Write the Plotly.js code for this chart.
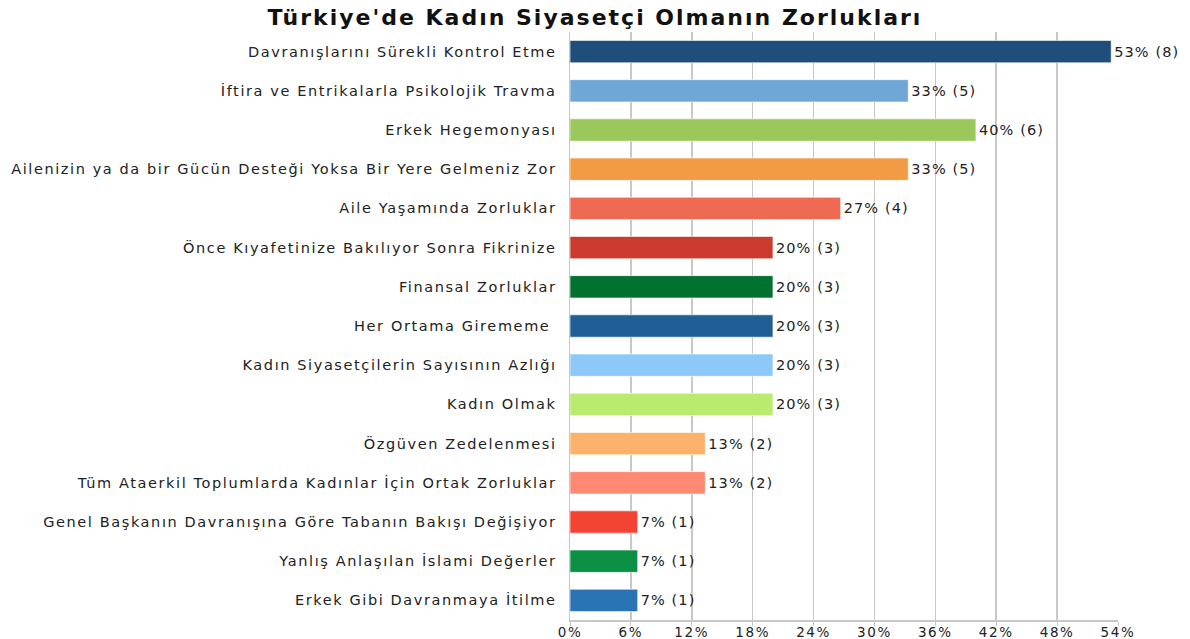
<!DOCTYPE html>
<html>
<head>
<meta charset="utf-8">
<script src="https://cdn.plot.ly/plotly-3.0.1.min.js"></script>
<style>
html,body{margin:0;padding:0;background:#fff;}
#chart{width:1190px;height:639px;}
#chart .ytick text {letter-spacing: 1.6px;}
#chart .xtick text {letter-spacing: 1.6px;}
text.bartext {letter-spacing: 1.1px;}
#chart .gtitle {letter-spacing: 2.0px;}
</style>
</head>
<body>
<div id="chart"></div>
<script>
const categories = [
  "Davranışlarını Sürekli Kontrol Etme",
  "İftira ve Entrikalarla Psikolojik Travma",
  "Erkek Hegemonyası",
  "Ailenizin ya da bir Gücün Desteği Yoksa Bir Yere Gelmeniz Zor",
  "Aile Yaşamında Zorluklar",
  "Önce Kıyafetinize Bakılıyor Sonra Fikrinize",
  "Finansal Zorluklar",
  "Her Ortama Girememe ",
  "Kadın Siyasetçilerin Sayısının Azlığı",
  "Kadın Olmak",
  "Özgüven Zedelenmesi",
  "Tüm Ataerkil Toplumlarda Kadınlar İçin Ortak Zorluklar",
  "Genel Başkanın Davranışına Göre Tabanın Bakışı Değişiyor",
  "Yanlış Anlaşılan İslami Değerler",
  "Erkek Gibi Davranmaya İtilme"
];
const percents = [53.33, 33.33, 40, 33.33, 26.67, 20, 20, 20, 20, 20, 13.33, 13.33, 6.67, 6.67, 6.67];
const counts = [8, 5, 6, 5, 4, 3, 3, 3, 3, 3, 2, 2, 1, 1, 1];
const barColors = ["#1F4E7A", "#6FA8D6", "#9BC85B", "#F39A45", "#EE6A55", "#CB3A2C", "#00712F", "#1F5F96",
  "#8DC8F8", "#B9EB6E", "#FDB26B", "#FE8973", "#F24333", "#0A8F45", "#2A74B5"];
const tickVals = [0, 6, 12, 18, 24, 30, 36, 42, 48, 54];
const tickText = ["0%", "6%", "12%", "18%", "24%", "30%", "36%", "42%", "48%", "54%"];
const labels = percents.map((p, i) => Math.round(p) + "% (" + counts[i] + ")");

const FONT = "DejaVu Sans, Verdana, sans-serif";

Plotly.newPlot("chart", [{
  type: "bar",
  orientation: "h",
  y: categories,
  x: percents,
  text: labels,
  textposition: "outside",
  cliponaxis: false,
  textfont: {family: FONT, size: 14.5, color: "#222"},
  marker: {color: barColors, line: {color: "rgba(255,255,255,0.6)", width: 1}},
  width: 0.57,
  hoverinfo: "none"
}], {
  width: 1190, height: 639,
  margin: {l: 570, r: 72, t: 32, b: 19},
  paper_bgcolor: "#fff", plot_bgcolor: "#fff",
  title: {text: "<b>Türkiye'de Kadın Siyasetçi Olmanın Zorlukları</b>", x: 0.5, xref: "container", y: 0.985, yanchor: "top",
    font: {family: FONT, size: 22, color: "#111"}},
  xaxis: {range: [0, 54], tickvals: tickVals, ticktext: tickText, showgrid: true, gridcolor: "#c8c8c8", gridwidth: 1.5,
    zeroline: false, showline: true, linecolor: "#c8c8c8", linewidth: 1.5, ticks: "outside", ticklen: 4, tickcolor: "#c8c8c8",
    ticklabelstandoff: -5,
    tickfont: {family: FONT, size: 13.5, color: "#222"}, fixedrange: true},
  yaxis: {autorange: "reversed", showline: true, linecolor: "#c8c8c8", linewidth: 1.5, ticks: "", ticklabelstandoff: 9,
    tickfont: {family: FONT, size: 14.5, color: "#222"}, fixedrange: true},
  showlegend: false,
  font: {family: FONT}
}, {displayModeBar: false, staticPlot: true});
</script>
</body>
</html>
